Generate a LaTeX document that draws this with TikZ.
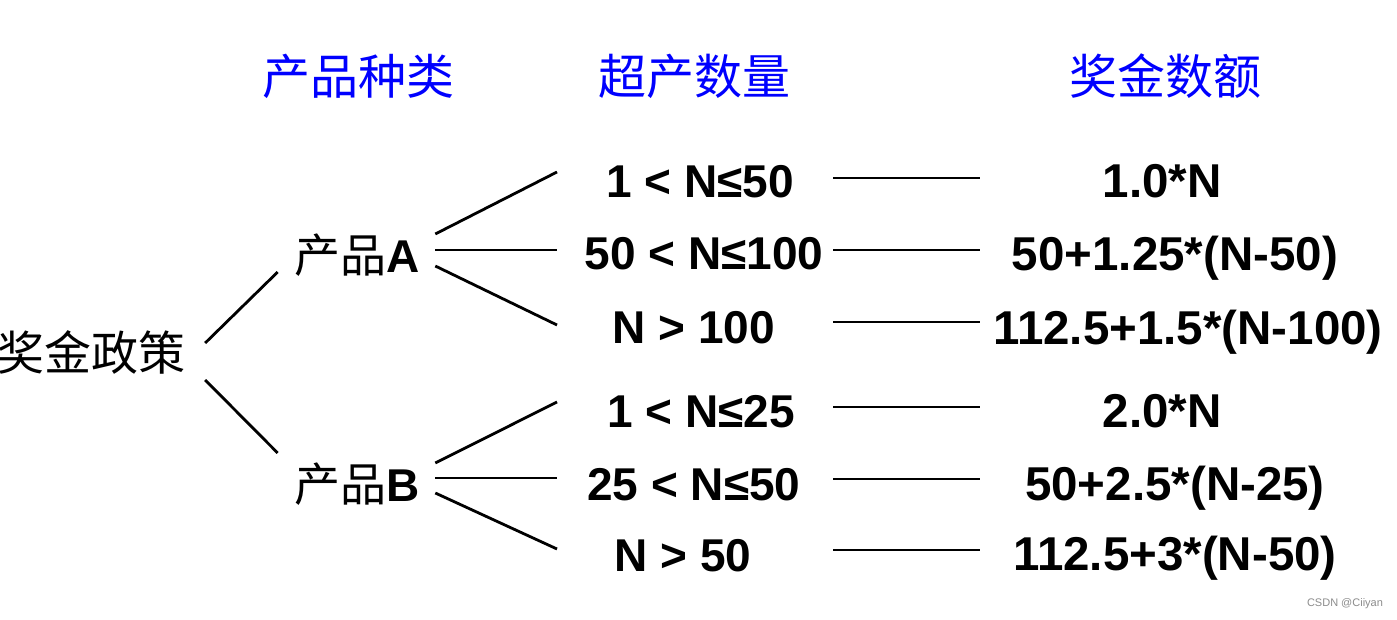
\documentclass[tikz,border=0pt]{standalone}
\usepackage{fontspec}
\setmainfont{Liberation Sans}
\newfontfamily\cjk{Noto Sans CJK SC}
\usetikzlibrary{calc}
\definecolor{hdrblue}{RGB}{0,0,255}
\begin{document}
\begin{tikzpicture}[x=1pt,y=-1pt,
  hdr/.style={inner sep=0pt,text=hdrblue,font=\cjk\fontsize{48}{52}\selectfont},
  cjknode/.style={inner sep=0pt,font=\fontsize{46}{50}\selectfont},
  lat/.style={inner sep=0pt,text height=33pt,text depth=0pt,font=\bfseries\fontsize{46}{50}\selectfont},
  latr/.style={lat,font=\bfseries\fontsize{47.5}{50}\selectfont},
  conn/.style={line width=2.8pt,black},
  wm/.style={inner sep=0pt,text=black!45,font=\fontsize{11}{12}\selectfont}]
\useasboundingbox[fill=white] (0,0) rectangle (1397,620);
% headers
\node[hdr] (h1) at (358,76) {产品种类};
\node[hdr] (h2) at (694,76) {超产数量};
\node[hdr] (h3) at (1165,76) {奖金数额};
% tree nodes
\node[cjknode,font=\cjk\fontsize{47}{50}\selectfont] (root) at (92,352) {奖金政策};
\node[cjknode] (A) at (357,255) {{\cjk 产品}{\bfseries A}};
\node[cjknode] (B) at (357,484) {{\cjk 产品}{\bfseries B}};
% middle column
\node[lat] (m1) at (700,181.5) {1 < N≤50};
\node[lat] (m2) at (704,253.5) {50 < N≤100};
\node[lat] (m3) at (694,326.5) {N > 100};
\node[lat] (m4) at (701,410.5) {1 < N≤25};
\node[lat] (m5) at (694,483.5) {25 < N≤50};
\node[lat] (m6) at (683,554.5) {N > 50};
% right column
\node[latr] (r1) at (1162,181.5) {1.0*N};
\node[latr] (r2) at (1175,254) {50+1.25*(N-50)};
\node[latr] (r3) at (1188,327.5) {112.5+1.5*(N-100)};
\node[latr] (r4) at (1162,410.5) {2.0*N};
\node[latr] (r5) at (1175,483.5) {50+2.5*(N-25)};
\node[latr] (r6) at (1175,553.5) {112.5+3*(N-50)};
% guide coordinates
\coordinate (ml) at (557,0);
\coordinate (hl) at (833,0);
\coordinate (hr) at (980,0);
% root branches
\draw[conn] ($(root.east)+(19,-9)$) -- ($(A.west)+(-16.5,17)$);
\draw[conn] ($(root.east)+(19,28)$) -- ($(B.west)+(-16.5,-31)$);
% A branches
\draw[conn] ($(A.east)+(15.5,-21)$) -- ($(m1.west -| ml)+(0,-9.5)$);
\draw[conn] ($(A.east)+(15.5,-5)$) -- ($(m2.west -| ml)+(0,-3.5)$);
\draw[conn] ($(A.east)+(15.5,11)$) -- ($(m3.west -| ml)+(0,-1.5)$);
% B branches
\draw[conn] ($(B.east)+(15.5,-21)$) -- ($(m4.west -| ml)+(0,-8.5)$);
\draw[conn] ($(B.east)+(15.5,-6)$) -- ($(m5.west -| ml)+(0,-5.5)$);
\draw[conn] ($(B.east)+(15.5,9)$) -- ($(m6.west -| ml)+(0,-5.5)$);
% horizontal links
\draw[conn] ($(m1.east -| hl)+(0,-3.5)$) -- ($(r1.west -| hr)+(0,-3.5)$);
\draw[conn] ($(m2.east -| hl)+(0,-3.5)$) -- ($(r2.west -| hr)+(0,-4)$);
\draw[conn] ($(m3.east -| hl)+(0,-4.5)$) -- ($(r3.west -| hr)+(0,-5.5)$);
\draw[conn] ($(m4.east -| hl)+(0,-3.5)$) -- ($(r4.west -| hr)+(0,-3.5)$);
\draw[conn] ($(m5.east -| hl)+(0,-4.5)$) -- ($(r5.west -| hr)+(0,-4.5)$);
\draw[conn] ($(m6.east -| hl)+(0,-4.5)$) -- ($(r6.west -| hr)+(0,-3.5)$);
% watermark
\node[wm] (wmk) at (1345,604) {CSDN @Ciiyan};
\end{tikzpicture}
\end{document}
